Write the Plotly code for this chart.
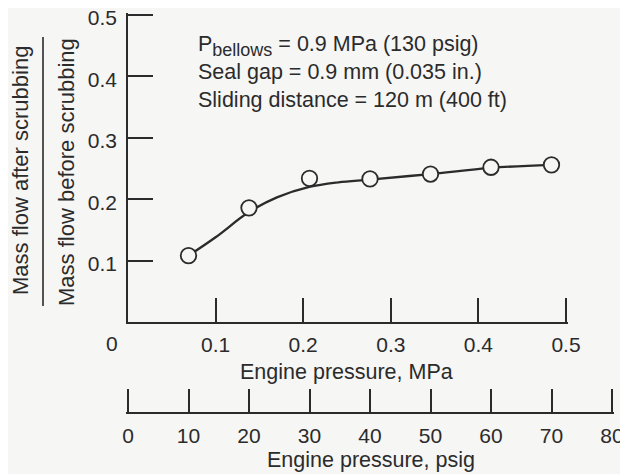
import plotly.graph_objects as go

# ---- data ----
psig_points = [10, 20, 30, 40, 50, 60, 70]                     # engine pressure of test points, psig
flow_ratio = [0.108, 0.186, 0.234, 0.233, 0.241, 0.252, 0.256]  # mass-flow ratio at points
curve_mpa = [0.069, 0.10, 0.138, 0.17, 0.207, 0.24, 0.276, 0.345, 0.414, 0.483]
curve_ratio = [0.108, 0.138, 0.179, 0.203, 0.220, 0.2275, 0.232, 0.241, 0.251, 0.256]
mpa_ticks = [0.1, 0.2, 0.3, 0.4, 0.5]
mpa_labels = ["0.1", "0.2", "0.3", "0.4", "0.5"]
ratio_ticks = [0.1, 0.2, 0.3, 0.4, 0.5]
ratio_labels = ["0.1", "0.2", "0.3", "0.4", "0.5"]
psig_ticks = [0, 10, 20, 30, 40, 50, 60, 70, 80]

BG = "#f6f6f5"
INK = "#2b2b2b"
FONT = "Liberation Sans, Arial, sans-serif"
FS = 21.5     # annotation / axis-title text
YFS = 22      # y-axis title text
TFS = 21      # tick labels

# The page places the figure 8 px in from the window's top-left corner,
# so the figure is sized to fill the rest of the 628x474 window.
OFF = 8
W, H = 628 - OFF, 474 - OFF

# axis end points in window pixels
X0, XMPA, XPSIG = 128, 566, 612      # 0 / 0.5 MPa / 80 psig
Y0, YTOP, YPSIG = 322, 15, 413       # ratio 0 / ratio 0.5 / psig axis line
PAD = 2                              # keeps end ticks just inside the axis ends

L, R = X0 - PAD - OFF, XPSIG + PAD - OFF
T, B = YTOP - PAD - OFF, YPSIG - OFF
PW, PH = R - L, B - T

def px_x(p):  # window x pixel -> paper fraction
    return (p - OFF - L) / PW

def px_y(p):  # window y pixel -> paper fraction
    return (B - (p - OFF)) / PH

mpa_max = 0.5 * (XMPA + PAD - X0) / (XMPA - X0)
ratio_max = 0.5 * (Y0 - YTOP + PAD) / (Y0 - YTOP)
psig_per_px = 80 / (XPSIG - X0)

fig = go.Figure()
fig.add_trace(go.Scatter(
    x=curve_mpa, y=curve_ratio, mode="lines",
    line=dict(color=INK, width=2.3, shape="spline", smoothing=1.0),
    xaxis="x", yaxis="y", showlegend=False, hoverinfo="skip"))
fig.add_trace(go.Scatter(
    x=psig_points, y=flow_ratio, mode="markers",
    marker=dict(symbol="circle", size=15.5, color=BG, line=dict(color=INK, width=1.8)),
    xaxis="x2", yaxis="y", showlegend=False, cliponaxis=False))

axis_common = dict(showgrid=False, zeroline=False, showline=True, linecolor=INK, linewidth=1.7,
                   ticks="inside", tickcolor=INK, tickwidth=1.7, automargin=False,
                   ticklabeloverflow="allow",
                   tickfont=dict(family=FONT, size=TFS, color=INK))

fig.update_layout(
    width=W, height=H,
    margin=dict(l=L, r=W - R, t=T, b=H - B, pad=0, autoexpand=False),
    paper_bgcolor=BG, plot_bgcolor="rgba(0,0,0,0)",
    font=dict(family=FONT, size=FS, color=INK),
    xaxis=dict(domain=[px_x(X0), px_x(XMPA + PAD)], range=[0, mpa_max], anchor="y",
               tickvals=mpa_ticks, ticktext=mpa_labels, ticklen=24, ticklabelstandoff=3,
               **axis_common),
    yaxis=dict(domain=[px_y(Y0), 1], range=[0, ratio_max], anchor="x",
               tickvals=ratio_ticks, ticktext=ratio_labels, ticklen=25, ticklabelstandoff=5,
               ticklabelshift=3,
               **axis_common),
    xaxis2=dict(domain=[0, 1], range=[-PAD * psig_per_px, 80 + PAD * psig_per_px],
                anchor="free", position=0, side="bottom",
                tickvals=psig_ticks, ticklen=23, ticklabelstandoff=4,
                **axis_common),
)

def note(text, x, y, **kw):
    d = dict(text=text, x=px_x(x), y=px_y(y), xref="paper", yref="paper",
             xanchor="center", yanchor="middle", showarrow=False)
    d.update(kw)
    return d

ann = [
    note("0", 112, 343, font=dict(size=TFS)),
    note("Engine pressure, MPa", 346, 372, font=dict(size=FS)),
    note("Engine pressure, psig", 371, 460, font=dict(size=FS)),
    note("Mass flow after scrubbing", 20, 171, textangle=-90, font=dict(size=YFS)),
    note("Mass flow before scrubbing", 66, 172, textangle=-90, font=dict(size=YFS)),
    note("P<sub><span style='font-size:18px'>bellows</span></sub> = 0.9 MPa (130 psig)<br>"
         "Seal gap = 0.9 mm (0.035 in.)<br>"
         "Sliding distance = 120 m (400 ft)", 196, 30,
         xanchor="left", yanchor="top", align="left", font=dict(size=FS)),
]
fig.update_layout(annotations=ann)
fig.add_shape(type="line", xref="paper", yref="paper",
              x0=px_x(43), x1=px_x(43), y0=px_y(37), y1=px_y(306),
              line=dict(color=INK, width=1.6))

fig.write_html("out.html")
